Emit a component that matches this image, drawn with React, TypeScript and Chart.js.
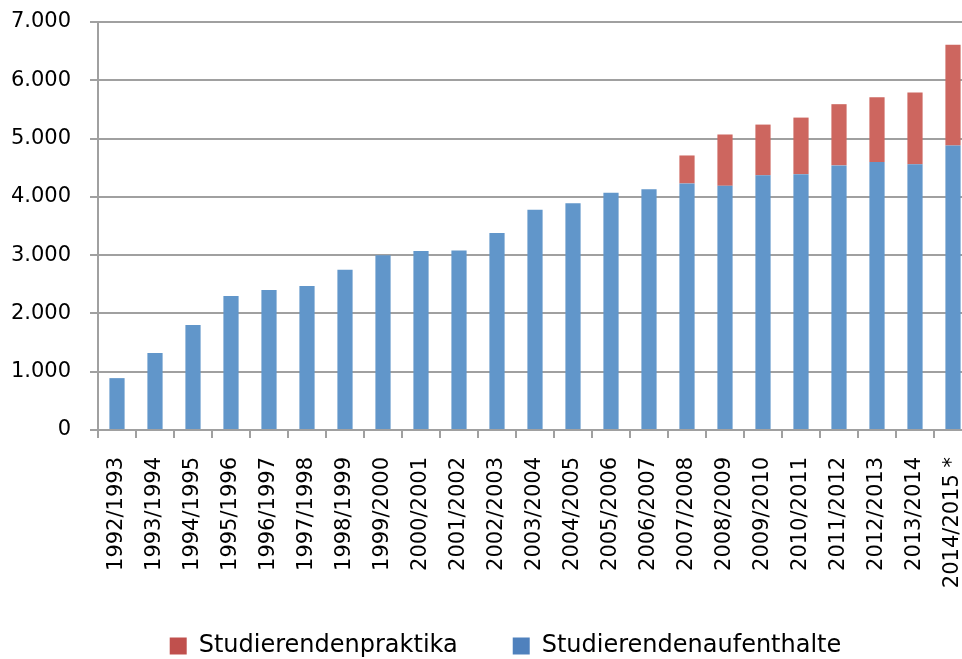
import React, { useEffect, useRef } from 'react';
import { Chart, registerables } from 'chart.js';

Chart.register(...registerables);

const categories = [
  '1992/1993', '1993/1994', '1994/1995', '1995/1996', '1996/1997', '1997/1998',
  '1998/1999', '1999/2000', '2000/2001', '2001/2002', '2002/2003', '2003/2004',
  '2004/2005', '2005/2006', '2006/2007', '2007/2008', '2008/2009', '2009/2010',
  '2010/2011', '2011/2012', '2012/2013', '2013/2014', '2014/2015 *',
];

const aufenthalte = [
  890, 1320, 1800, 2300, 2400, 2470, 2750, 3000, 3070, 3080, 3380, 3780,
  3890, 4070, 4130, 4230, 4190, 4370, 4390, 4540, 4600, 4560, 4880,
];

const praktika = [
  null, null, null, null, null, null, null, null, null, null, null, null,
  null, null, null, 480, 880, 870, 970, 1050, 1110, 1230, 1730,
];

const yTicks = [0, 1000, 2000, 3000, 4000, 5000, 6000, 7000];

const seriesNames = ['Studierendenaufenthalte', 'Studierendenpraktika'];

const formatDe = (v: number) =>
  String(v).replace(/\B(?=(\d{3})+(?!\d))/g, '.');

const noLabelClip = {
  id: 'noLabelClip',
  beforeDraw(chart: any) {
    Object.values(chart.scales).forEach((s: any) => {
      s._computeLabelArea = () => undefined;
    });
  },
};

export default function App() {
  const ref = useRef<HTMLCanvasElement | null>(null);

  useEffect(() => {
    if (!ref.current) return;
    const barColors = ['#6196CA', '#CD665F'];
    const legendColors = ['#4F81BD', '#C0504D'];
    const grid = '#a0a0a0';
    const chart = new Chart(ref.current, {
      type: 'bar',
      data: {
        labels: categories,
        datasets: [
          {
            label: seriesNames[0],
            data: aufenthalte,
            backgroundColor: barColors[0],
            categoryPercentage: 0.8,
            barPercentage: 0.5,
          },
          {
            label: seriesNames[1],
            data: praktika as any,
            backgroundColor: barColors[1],
            categoryPercentage: 0.8,
            barPercentage: 0.5,
          },
        ],
      },
      plugins: [noLabelClip],
      options: {
        responsive: false,
        animation: false,
        devicePixelRatio: 1,
        layout: { padding: { top: 22, right: 39, left: 39, bottom: 0 } },
        plugins: {
          tooltip: { enabled: false },
          legend: {
            position: 'bottom',
            reverse: true,
            labels: {
              boxWidth: 17,
              boxHeight: 17,
              padding: 55,
              color: '#000',
              font: { family: 'DejaVu Sans', size: 24 },
              generateLabels: (c: any) => {
                const items = (Chart.defaults.plugins.legend.labels as any).generateLabels(c);
                return items.map((it: any) => ({
                  ...it,
                  fillStyle: legendColors[it.datasetIndex],
                  strokeStyle: legendColors[it.datasetIndex],
                  lineWidth: 0,
                }));
              },
            },
          },
        },
        scales: {
          x: {
            stacked: true,
            offset: true,
            grid: {
              display: true,
              drawOnChartArea: false,
              drawTicks: true,
              tickLength: 8,
              color: grid,
              lineWidth: 2,
            },
            border: { display: true, color: grid, width: 2 },
            ticks: {
              minRotation: 90,
              maxRotation: 90,
              autoSkip: false,
              padding: 19,
              color: '#000',
              font: { family: 'DejaVu Sans', size: 21 },
            },
            afterFit: (s: any) => {
              s.height = 149;
            },
          },
          y: {
            stacked: true,
            min: 0,
            max: 7000,
            afterBuildTicks: (s: any) => {
              s.ticks = yTicks.map((v) => ({ value: v }));
            },
            grid: {
              color: grid,
              lineWidth: 2,
              drawTicks: true,
              tickLength: 8,
            },
            border: { display: true, color: grid, width: 2 },
            ticks: {
              padding: 19,
              color: '#000',
              font: { family: 'DejaVu Sans', size: 21 },
              callback: (v: any) => formatDe(Number(v)),
            },
            afterFit: (s: any) => {
              s.width = 59;
              s.paddingTop = 0;
              s.paddingBottom = 0;
            },
          },
        },
      },
    });
    return () => chart.destroy();
  }, []);

  return (
    <div
      style={{
        position: 'absolute',
        left: 0,
        top: 0,
        width: 962,
        height: 659,
        overflow: 'hidden',
        background: '#fff',
      }}
    >
      <canvas
        ref={ref}
        width={1011}
        height={668}
        style={{ display: 'block', width: 1011, height: 668 }}
      />
    </div>
  );
}
